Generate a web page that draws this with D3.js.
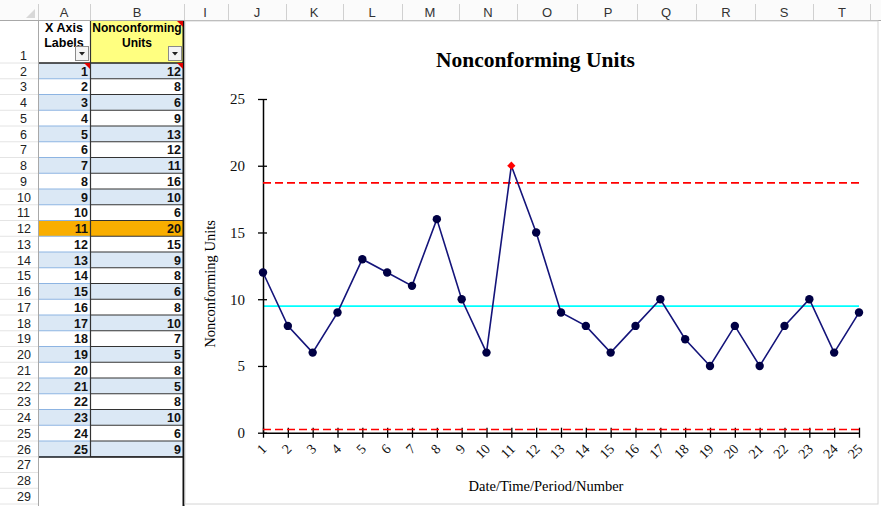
<!DOCTYPE html>
<html>
<head>
<meta charset="utf-8">
<script src="https://cdn.jsdelivr.net/npm/d3@7"></script>
<style>
html,body{margin:0;padding:0;background:#fff;}
svg{display:block;}
</style>
</head>
<body>
<svg id="c" width="881" height="506"></svg>
<script>
// ---- data ----
const xLabels = ["1","2","3","4","5","6","7","8","9","10","11","12","13","14","15","16","17","18","19","20","21","22","23","24","25"];
const values = [12,8,6,9,13,12,11,16,10,6,20,15,9,8,6,8,10,7,5,8,5,8,10,6,9];
const centerLine = 9.48;
const upperLimit = 18.72;
const lowerLimit = 0.24;
const yTicks = [0,5,10,15,20,25];
const outOfControl = ["11"];
const columnLetters = ["A","B","I","J","K","L","M","N","O","P","Q","R","S","T"];
const columnCenters = [64,137,205,257,314,372,430,488,547,608,666,726,784,842];
const columnEdges = [38,90,184,228,286,343,402,459,517,577,637,696,755,813,870];
const highlightedRow = "11";
const chartTitle = "Nonconforming Units";
const yTitle = "Nonconforming Units";
const xTitle = "Date/Time/Period/Number";
const headerA = ["X Axis","Labels"];
const headerB = ["Nonconforming","Units"];

const svg = d3.select("#c");

// ---- spreadsheet background ----
const rowTop = r => r === 1 ? 21 : 63 + (r - 2) * 15.75;
const rowH = r => r === 1 ? 42 : 15.75;
const rows = d3.range(1, 30);

// column header strip
svg.append("rect").attr("x",0).attr("y",0).attr("width",881).attr("height",21).attr("fill","#fbfbfb");
svg.append("line").attr("x1",0).attr("x2",881).attr("y1",20.5).attr("y2",20.5).attr("stroke","#a8a8a8");
svg.selectAll("line.colsep").data(columnEdges).join("line")
  .attr("x1",d=>d+0.5).attr("x2",d=>d+0.5).attr("y1",4).attr("y2",20)
  .attr("stroke","#d0d0d0");
svg.selectAll("text.colhdr").data(columnLetters).join("text")
  .attr("x",(d,i)=>columnCenters[i]).attr("y",17)
  .attr("text-anchor","middle").attr("font-family","Liberation Sans, Arial, sans-serif")
  .attr("font-size",13).attr("fill","#333").text(d=>d);
// select-all triangle
svg.append("path").attr("d","M26,18 L35,18 L35,9 Z").attr("fill","#d8d8d8");

// row header column
svg.append("line").attr("x1",38.5).attr("x2",38.5).attr("y1",21).attr("y2",506).attr("stroke","#a8a8a8");
svg.selectAll("line.rowsep").data(rows).join("line")
  .attr("x1",0).attr("x2",38).attr("y1",r=>rowTop(r)+rowH(r)).attr("y2",r=>rowTop(r)+rowH(r))
  .attr("stroke","#e4e4e4");
svg.selectAll("text.rowhdr").data(rows).join("text")
  .attr("x",r=> r<10 ? 20 : 17).attr("y",r=> r===1 ? 60 : rowTop(r)+12.5)
  .attr("font-family","Liberation Sans, Arial, sans-serif")
  .attr("font-size",12.5).attr("fill","#222").text(r=>r);

// data cells
const dataRows = xLabels.map((lab,i)=>({r:i+2, lab, val:values[i]}));
const cellFill = d => d.lab === highlightedRow ? "#f9ae00" : (d.r % 2 === 0 ? "#dbe8f5" : "#ffffff");
svg.selectAll("rect.cellA").data(dataRows).join("rect")
  .attr("x",39).attr("y",d=>rowTop(d.r)).attr("width",51).attr("height",15.75).attr("fill",cellFill);
svg.selectAll("rect.cellB").data(dataRows).join("rect")
  .attr("x",90).attr("y",d=>rowTop(d.r)).attr("width",93).attr("height",15.75).attr("fill",cellFill);
// A row borders (light blue)
svg.selectAll("line.aline").data(dataRows).join("line")
  .attr("x1",39).attr("x2",90).attr("y1",d=>rowTop(d.r)+15.75).attr("y2",d=>rowTop(d.r)+15.75)
  .attr("stroke","#8db4e2").attr("stroke-width",1);
// B row borders (dark)
svg.selectAll("line.bline").data(dataRows).join("line")
  .attr("x1",90).attr("x2",183).attr("y1",d=>rowTop(d.r)+15.75).attr("y2",d=>rowTop(d.r)+15.75)
  .attr("stroke","#333").attr("stroke-width",1.2);
// header row 1
svg.append("rect").attr("x",90).attr("y",21).attr("width",93).attr("height",42).attr("fill","#ffff80");
svg.append("line").attr("x1",39).attr("x2",183).attr("y1",63).attr("y2",63).attr("stroke","#222").attr("stroke-width",1.5);
svg.append("line").attr("x1",90.5).attr("x2",90.5).attr("y1",21).attr("y2",457).attr("stroke","#333").attr("stroke-width",1.2);
svg.append("line").attr("x1",39).attr("x2",183).attr("y1",457).attr("y2",457).attr("stroke","#222").attr("stroke-width",1.5);
svg.append("line").attr("x1",183.5).attr("x2",183.5).attr("y1",21).attr("y2",506).attr("stroke","#111").attr("stroke-width",2);

const tf = "Liberation Sans, Arial, sans-serif";
svg.selectAll("text.ha").data(headerA).join("text")
  .attr("x",64).attr("y",(d,i)=>32+i*15).attr("text-anchor","middle")
  .attr("font-family",tf).attr("font-size",12.5).attr("font-weight","bold").text(d=>d);
svg.selectAll("text.hb").data(headerB).join("text")
  .attr("x",137).attr("y",(d,i)=>32+i*15).attr("text-anchor","middle")
  .attr("font-family",tf).attr("font-size",12).attr("font-weight","bold").text(d=>d);
// filter buttons
[[75,46],[168,46]].forEach(([bx,by])=>{
  svg.append("rect").attr("x",bx+0.5).attr("y",by+0.5).attr("width",13).attr("height",14)
    .attr("fill","#f4f4f4").attr("stroke","#8a8a8a");
  svg.append("path").attr("d",`M${bx+4},${by+6} L${bx+10},${by+6} L${bx+7},${by+9.5} Z`).attr("fill","#222");
});
// comment markers
[[90,63],[183,21],[183,63]].forEach(([cx,cy])=>{
  svg.append("path").attr("d",`M${cx-6},${cy} L${cx},${cy} L${cx},${cy+6} Z`).attr("fill","#e00000");
});
// cell values
svg.selectAll("text.va").data(dataRows).join("text")
  .attr("x",88).attr("y",d=>rowTop(d.r)+12.5).attr("text-anchor","end")
  .attr("font-family",tf).attr("font-size",12.5).attr("font-weight","bold").attr("fill","#111").text(d=>d.lab);
svg.selectAll("text.vb").data(dataRows).join("text")
  .attr("x",181).attr("y",d=>rowTop(d.r)+12.5).attr("text-anchor","end")
  .attr("font-family",tf).attr("font-size",12.5).attr("font-weight","bold").attr("fill","#111").text(d=>d.val);

// ---- chart object ----
svg.append("rect").attr("x",185).attr("y",21).attr("width",693).attr("height",483)
  .attr("fill","#fff").attr("stroke","#d4d4d4");

const x = d3.scalePoint().domain(xLabels).range([263, 859]);
const y = d3.scaleLinear().domain([0,25]).range([432.7, 99]);
const serif = "Liberation Serif, Times New Roman, serif";

svg.append("text").attr("x",535.5).attr("y",67).attr("text-anchor","middle")
  .attr("font-family",serif).attr("font-size",21.5).attr("font-weight","bold").text(chartTitle);

// control lines
const x0 = x(xLabels[0]), x1 = x(xLabels[xLabels.length-1]);
svg.append("line").attr("x1",x0).attr("x2",x1).attr("y1",y(centerLine)).attr("y2",y(centerLine))
  .attr("stroke","#00ffff").attr("stroke-width",1.6);

// axes
const yAxis = svg.append("g").attr("transform",`translate(${x0},0)`)
  .call(d3.axisLeft(y).tickValues(yTicks).tickSizeOuter(0).tickPadding(12));
yAxis.select(".domain").attr("stroke","#000").attr("stroke-width",1.5);
yAxis.selectAll(".tick line").attr("x1",4).attr("x2",-5).attr("stroke","#000").attr("stroke-width",1.3);
yAxis.selectAll(".tick text").attr("font-family",serif).attr("font-size",15).attr("fill","#111");

const xAxis = svg.append("g").attr("transform",`translate(0,${y(0)})`)
  .call(d3.axisBottom(x).tickSizeOuter(0));
xAxis.select(".domain").attr("stroke","#000").attr("stroke-width",1.5);
xAxis.selectAll(".tick line").attr("y1",-5).attr("y2",5).attr("stroke","#000").attr("stroke-width",1.3);
xAxis.selectAll(".tick text").attr("font-family",serif).attr("font-size",14).attr("fill","#111")
  .attr("text-anchor","end").attr("dy",null).attr("y",null)
  .attr("transform","translate(4,17) rotate(-45)");

svg.append("line").attr("x1",x0).attr("x2",x1).attr("y1",y(upperLimit)).attr("y2",y(upperLimit))
  .attr("stroke","#ff0000").attr("stroke-width",1.6).attr("stroke-dasharray","8,4");
svg.append("line").attr("x1",x0).attr("x2",x1).attr("y1",y(lowerLimit)).attr("y2",y(lowerLimit))
  .attr("stroke","#ff0000").attr("stroke-width",1.6).attr("stroke-dasharray","8,4");

// axis titles
svg.append("text").attr("transform","translate(215,284) rotate(-90)").attr("text-anchor","middle")
  .attr("font-family",serif).attr("font-size",14.5).text(yTitle);
svg.append("text").attr("x",546).attr("y",491).attr("text-anchor","middle")
  .attr("font-family",serif).attr("font-size",14.5).text(xTitle);

// series
const pts = xLabels.map((l,i)=>({l, v:values[i]}));
svg.append("path").datum(pts)
  .attr("d", d3.line().x(d=>x(d.l)).y(d=>y(d.v)))
  .attr("fill","none").attr("stroke","#14147a").attr("stroke-width",1.6);
svg.selectAll("circle.pt").data(pts.filter(d=>!outOfControl.includes(d.l))).join("circle")
  .attr("cx",d=>x(d.l)).attr("cy",d=>y(d.v)).attr("r",4.2).attr("fill","#000044");
svg.selectAll("path.ooc").data(pts.filter(d=>outOfControl.includes(d.l))).join("path")
  .attr("transform",d=>`translate(${x(d.l)},${y(d.v)}) rotate(45)`)
  .attr("d", d3.symbol().type(d3.symbolSquare).size(34)).attr("fill","#ff0000");
</script>
</body>
</html>
